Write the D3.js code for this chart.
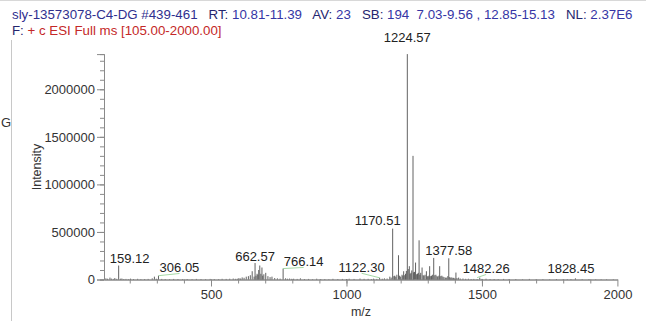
<!DOCTYPE html>
<html><head><meta charset="utf-8">
<script src="https://cdn.jsdelivr.net/npm/d3@7"></script>
<style>body{margin:0;background:#fff}svg{display:block}text{font-family:"Liberation Sans",Arial,sans-serif}</style>
</head><body><svg id="c" width="646" height="321"></svg>
<script>
// ---- data ----
const peakMz = [112,118,127,133,141,145,152,159.12,166,171,178,186,195,203,214,229,241,255,268,283,291,298,306.05,318,331,347,362,378,395,412,430,446,463,480,497,512,528,541,556,569,582,590,597,603,609,615,622,630,638,645,652,659,662.57,666,670,673,676,680,684,688,691,695,702,710,718,725,735,745,755,766.14,775,782,790,798,805,818,830,845,860,875,890,905,920,935,950,968,985,1000,1010,1028,1050,1065,1080,1092,1100,1112,1122.30,1132,1140,1150,1160,1165,1170.51,1175,1178,1182,1186,1192,1196,1200,1205,1208,1211,1215,1218,1221,1224.57,1228,1232,1235,1238,1241,1245.6,1248,1251,1255,1259,1262,1265,1268,1271,1274,1279,1283,1286,1290,1295,1298,1301,1304,1307,1311,1314,1318,1322,1326,1330,1334,1337,1341,1344,1348,1352,1356,1360,1365,1370,1374,1377.58,1381,1385,1389,1393,1396,1400,1404,1408,1414,1420,1430,1440,1450,1460,1470,1482.26,1492,1500,1515,1530,1545,1560,1580,1600,1625,1650,1675,1700,1725,1750,1775,1800,1815,1828.45,1845,1870,1895,1920,1940,1960,1985];
const peakIntensity = [12000,8000,20000,9000,6000,15000,7000,147000,8000,10000,5000,6000,4000,9000,5000,7000,4000,5000,6000,12000,30000,8000,40000,6000,5000,4000,6000,5000,4000,5000,4000,6000,5000,4000,6000,5000,4000,7000,6000,8000,10000,7000,8000,15000,10000,22000,18000,30000,35000,45000,87000,30000,173000,40000,60000,50000,100000,147000,60000,126000,40000,55000,70000,35000,25000,30000,15000,12000,9000,115000,12000,8000,10000,7000,8000,6000,12000,5000,6000,4000,8000,5000,5000,4000,7000,5000,6000,5000,8000,6000,10000,7000,7000,5000,9000,6000,18000,8000,12000,10000,30000,20000,535000,35000,40000,30000,50000,255000,40000,30000,50000,40000,87000,45000,60000,90000,2370000,110000,140000,60000,70000,95000,1300000,75000,80000,178000,55000,60000,70000,412000,50000,70000,126000,45000,40000,50000,87000,35000,30000,40000,140000,35000,40000,50000,227000,45000,50000,35000,30000,40000,140000,35000,40000,30000,25000,20000,20000,35000,223000,25000,20000,22000,15000,18000,12000,73000,15000,20000,10000,10000,7000,8000,5000,6000,5000,20000,6000,8000,5000,5000,4000,6000,4000,5000,3000,6000,3000,4000,3000,5000,3000,4000,5000,12000,4000,4000,3000,3000,3000,3000,2500];
const labelMz = [159.12,306.05,662.57,766.14,1122.30,1170.51,1224.57,1377.58,1482.26,1828.45];
const labelIntensity = [147000,40000,173000,115000,18000,535000,2370000,223000,20000,12000];
const xTickValues = [500,1000,1500,2000];
const yTickValues = [0,500000,1000000,1500000,2000000];
const xDomain = [105,2000];
const yDomain = [0,2370000];
const headerLine1 = ["sly-13573078-C4-DG #439-461","   RT: ","10.81-11.39","   AV: ","23","   SB: ","194  7.03-9.56 , 12.85-15.13","   NL: ","2.37E6"];
const headerLine2 = ["F: ","+ c ESI Full ms [105.00-2000.00]"];

// ---- layout (not data) ----
const h1col = ["#2f2f8f","#25256e","#3535a5","#25256e","#3535a5","#25256e","#3535a5","#25256e","#3535a5"];
const h2col = ["#25256e","#c42828"];
// label offsets: [dx from peak, baseline dy from peak top, leader?]
const labelLayout = [[11,-2.5,0],[21,-3.7,1],[0,-2,0],[20.5,-2.6,1],[-18,-6,1],[-15,-3.6,0],[0,-12,0],[0,-3.3,0],[9,-4.6,1],[0,-5,0]];

const svg = d3.select("#c");
const x = d3.scaleLinear().domain(xDomain).range([104,617.4]);
const y = d3.scaleLinear().domain(yDomain).range([279.5,54.1]);

// frame artefacts
svg.append("line").attr("x1",0).attr("x2",646).attr("y1",0.5).attr("y2",0.5).attr("stroke","#d8d8d8");
svg.append("line").attr("x1",11.5).attr("x2",11.5).attr("y1",40).attr("y2",321).attr("stroke","#c8c8c8");
svg.append("text").attr("x",1).attr("y",127).attr("font-size",13).attr("fill","#333").text("G");

// header
const t1 = svg.append("text").attr("x",12).attr("y",19).attr("font-size",13.3).attr("xml:space","preserve").style("white-space","pre");
headerLine1.forEach((s,i)=>t1.append("tspan").attr("fill",h1col[i]).text(s));
const t2 = svg.append("text").attr("x",12).attr("y",34.5).attr("font-size",13.3).attr("xml:space","preserve").style("white-space","pre");
headerLine2.forEach((s,i)=>t2.append("tspan").attr("fill",h2col[i]).text(s));

// axes
const axCol = "#8a8a8a";
const yMinor = d3.range(0, 2300001, 100000);
const xMinor = d3.range(200, 2000, 100);
const gy = svg.append("g").attr("transform","translate(104,0)");
gy.call(d3.axisLeft(y).tickValues(yMinor).tickSize(4).tickFormat(""));
gy.append("g").call(d3.axisLeft(y).tickValues(yTickValues).tickSize(7).tickPadding(2).tickFormat(d3.format("d")));
gy.selectAll("path.domain").attr("stroke",axCol);
gy.selectAll(".tick line").attr("stroke",axCol);
gy.selectAll(".tick text").attr("font-size",13).attr("fill","#333").attr("font-family","Liberation Sans, Arial, sans-serif");

const gx = svg.append("g").attr("transform","translate(0,279.5)");
gx.call(d3.axisBottom(x).tickValues(xMinor).tickSize(4).tickFormat("").tickSizeOuter(0));
gx.append("g").call(d3.axisBottom(x).tickValues(xTickValues).tickSize(7).tickPadding(3).tickSizeOuter(0).tickFormat(d3.format("d")));
gx.selectAll("path.domain").attr("stroke",axCol);
gx.selectAll(".tick line").attr("stroke",axCol);
gx.selectAll(".tick text").attr("font-size",13).attr("fill","#333").attr("font-family","Liberation Sans, Arial, sans-serif");

// axis titles
svg.append("text").attr("transform","translate(41,167) rotate(-90)").attr("text-anchor","middle")
  .attr("font-size",12.5).attr("fill","#333").text("Intensity");
svg.append("text").attr("x",361).attr("y",316).attr("text-anchor","middle")
  .attr("font-size",12.5).attr("fill","#333").text("m/z");

// spectrum sticks
svg.append("g").selectAll("line").data(peakMz).join("line")
  .attr("x1",d=>x(d)).attr("x2",d=>x(d))
  .attr("y1",y(0)).attr("y2",(d,i)=>y(peakIntensity[i]))
  .attr("stroke","#505050").attr("stroke-width",0.9);

// labels
const lg = svg.append("g");
labelMz.forEach((m,i)=>{
  const px = x(m), py = y(labelIntensity[i]);
  const [dx,dy,lead] = labelLayout[i];
  const lx = px+dx, ly = py+dy;
  if(lead){
    lg.append("line").attr("x1",px).attr("y1",py).attr("x2",lx).attr("y2",ly+1.5)
      .attr("stroke","#8fcf8f").attr("stroke-width",0.8);
  }
  lg.append("text").attr("x",lx).attr("y",ly).attr("text-anchor","middle")
    .attr("font-size",13).attr("fill","#222").text(m.toFixed(2));
});
</script></body></html>
